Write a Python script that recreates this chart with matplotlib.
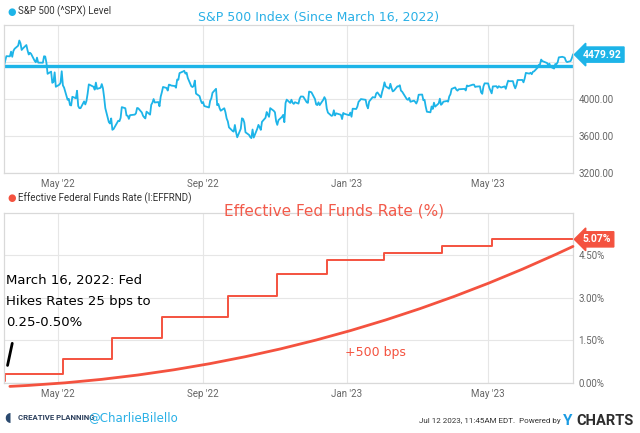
import matplotlib
matplotlib.use("Agg")
import matplotlib.pyplot as plt
import matplotlib.dates as mdates
import pandas as pd


START_DATE = "2022-03-16"
END_DATE = "2023-07-12"
MARKET_HOLIDAYS = [
    "2022-04-15", "2022-05-30", "2022-06-20", "2022-07-04", "2022-09-05",
    "2022-11-24", "2022-12-26", "2023-01-02", "2023-01-16", "2023-02-20",
    "2023-04-07", "2023-05-29", "2023-06-19", "2023-07-04",
]

# S&P 500 daily level, Mar 16 2022 -> Jul 12 2023 (last point intraday)
SPX_LEVEL = [
    4358, 4412, 4463, 4461, 4512, 4456, 4520, 4543, 4576, 4632, 4602, 4530,
    4546, 4583, 4525, 4481, 4500, 4488, 4413, 4397, 4447, 4393, 4392, 4462,
    4459, 4394, 4272, 4296, 4175, 4184, 4288, 4132,
    4155, 4175, 4300, 4147, 4123, 3991, 4001, 3935, 3930, 4024, 4008, 4089,
    3924, 3901, 3901, 3974, 3941, 3979, 4058, 4158, 4132,
    4101, 4177, 4109, 4121, 4161, 4116, 4018, 3901, 3750, 3735, 3790, 3667,
    3675, 3765, 3760, 3796, 3912, 3900, 3822, 3819, 3785,
    3825, 3831, 3845, 3903, 3899, 3854, 3819, 3802, 3790, 3863, 3831, 3937,
    3960, 3999, 3962, 3967, 3921, 4024, 4072, 4130,
    4119, 4091, 4155, 4152, 4145, 4140, 4122, 4210, 4207, 4280, 4297, 4305,
    4274, 4284, 4228, 4138, 4129, 4141, 4199, 4058, 4031, 3986, 3955,
    3967, 3924, 3908, 3980, 4006, 4067, 4110, 3933, 3946, 3901, 3873, 3900,
    3856, 3790, 3758, 3693, 3655, 3647, 3719, 3640, 3586,
    3678, 3791, 3783, 3745, 3640, 3612, 3589, 3577, 3670, 3583, 3678, 3720,
    3695, 3666, 3753, 3797, 3859, 3831, 3807, 3901, 3872,
    3856, 3760, 3720, 3771, 3807, 3828, 3749, 3956, 3993, 3957, 3992, 3959,
    3947, 3965, 3950, 4004, 4027, 4026, 3964, 3958, 4080,
    4077, 4072, 3999, 3941, 3934, 3964, 3934, 3991, 4020, 3995, 3896, 3852,
    3818, 3822, 3878, 3822, 3845, 3829, 3783, 3849, 3840,
    3824, 3853, 3808, 3895, 3892, 3919, 3970, 3983, 3999, 3991, 3929, 3899,
    3973, 4020, 4017, 4016, 4060, 4071, 4018, 4077,
    4119, 4180, 4136, 4111, 4164, 4118, 4082, 4090, 4137, 4136, 4148, 4090,
    4079, 3997, 3991, 4012, 3970, 3982, 3970,
    3951, 3981, 4046, 4048, 3986, 3992, 3918, 3862, 3856, 3919, 3892, 3960,
    3917, 3952, 4003, 3937, 3949, 3971, 3978, 3971, 4028, 4051, 4109,
    4125, 4101, 4090, 4105, 4109, 4109, 4092, 4146, 4138, 4151, 4155, 4155,
    4130, 4134, 4137, 4072, 4056, 4135, 4169,
    4168, 4120, 4091, 4061, 4136, 4138, 4119, 4138, 4131, 4124, 4136, 4110,
    4159, 4198, 4192, 4193, 4146, 4115, 4151, 4205, 4206, 4180,
    4221, 4282, 4274, 4284, 4268, 4294, 4299, 4339, 4369, 4373, 4426, 4410,
    4389, 4366, 4382, 4348, 4329, 4378, 4377, 4396, 4450,
    4456, 4447, 4412, 4399, 4410, 4439, 4479.92,
]
SPX_BASE = 4357.86
SPX_TICKS = [3200, 3600, 4000, 4400]

FED_DATES = [
    "2022-03-16", "2022-03-17", "2022-05-05", "2022-06-16", "2022-07-28",
    "2022-09-22", "2022-11-03", "2022-12-15", "2023-02-02", "2023-03-23",
    "2023-05-04", "2023-07-12",
]
FED_RATE = [0.08, 0.33, 0.83, 1.58, 2.33, 3.08, 3.83, 4.33, 4.58, 4.83, 5.08, 5.07]
FED_TICKS = [0.0, 1.5, 3.0, 4.5]

# hand-drawn "+500 bps" curve and marker stroke (date, %)
CURVE_START = ("2022-03-21", -0.12)
CURVE_END = ("2023-07-12", 4.82)
STROKE_START = ("2022-03-19", 0.62)
STROKE_END = ("2022-03-23", 1.40)

X_TICKS = ["2022-05-01", "2022-09-01", "2023-01-01", "2023-05-01"]

BLUE = "#1db4e8"
RED = "#f4523f"
GRID = "#e6e6e6"
FRAME = "#d9d9d9"
TICK_COLOR = "#666666"


def style_axes(ax, yticks, fmt, ylim):
    ax.set_xlim(pd.Timestamp(START_DATE), pd.Timestamp(END_DATE))
    ax.set_ylim(*ylim)
    ax.set_xticks(pd.to_datetime(X_TICKS))
    ax.xaxis.set_major_formatter(mdates.DateFormatter("%b '%y"))
    ax.set_yticks(yticks)
    ax.set_yticklabels([fmt.format(v) for v in yticks])
    ax.yaxis.tick_right()
    ax.tick_params(length=0, labelsize=7, colors=TICK_COLOR, pad=4)
    ax.grid(True, color=GRID, linewidth=0.8)
    ax.set_axisbelow(True)
    for spine in ax.spines.values():
        spine.set_color(FRAME)
        spine.set_linewidth(0.9)


def price_tag(ax, value, text, color):
    ax.annotate(text, xy=(1.0, value), xycoords=("axes fraction", "data"),
                xytext=(7, 0), textcoords="offset points", ha="left", va="center",
                fontsize=7.5, fontweight="bold", color="white",
                bbox=dict(boxstyle="larrow,pad=0.25", fc=color, ec=color),
                annotation_clip=False)


def main() -> None:
    plt.rcParams["font.family"] = ["Roboto", "DejaVu Sans"]
    days = pd.bdate_range(START_DATE, END_DATE, freq="C", holidays=MARKET_HOLIDAYS)
    spx = pd.Series(SPX_LEVEL, index=days)
    fed = pd.Series(FED_RATE, index=pd.to_datetime(FED_DATES))

    fig = plt.figure(figsize=(6.4, 4.33), dpi=100)
    ax1 = fig.add_axes([0.00625, 0.6005, 0.889, 0.3418])
    ax2 = fig.add_axes([0.00625, 0.1155, 0.889, 0.3926])

    # S&P 500 panel
    ax1.plot(spx.index, spx.values, color=BLUE, linewidth=1.3)
    ax1.axhline(SPX_BASE, color=BLUE, linewidth=2.4)
    style_axes(ax1, SPX_TICKS, "{:.2f}", (3200, 4800))
    ax1.get_yticklabels()[-1].set_visible(False)
    price_tag(ax1, spx.iloc[-1], f"{spx.iloc[-1]:.2f}", BLUE)

    # Fed funds panel
    ax2.step(fed.index, fed.values, where="post", color=RED, linewidth=1.4)
    style_axes(ax2, FED_TICKS, "{:.2f}%", (0, 6.0))
    price_tag(ax2, fed.iloc[-1], f"{fed.iloc[-1]:.2f}%", RED)

    ax2.annotate("", xy=(pd.Timestamp(CURVE_END[0]), CURVE_END[1]),
                 xytext=(pd.Timestamp(CURVE_START[0]), CURVE_START[1]),
                 arrowprops=dict(arrowstyle="-", color=RED, linewidth=2.0,
                                 shrinkA=0, shrinkB=0,
                                 connectionstyle="arc3,rad=0.10"),
                 annotation_clip=False)
    ax2.annotate("", xy=(pd.Timestamp(STROKE_END[0]), STROKE_END[1]),
                 xytext=(pd.Timestamp(STROKE_START[0]), STROKE_START[1]),
                 arrowprops=dict(arrowstyle="-", color="black", linewidth=2.0,
                                 shrinkA=0, shrinkB=0))
    ax2.text(0.003, 0.478, "March 16, 2022: Fed\nHikes Rates 25 bps to\n0.25-0.50%",
             transform=ax2.transAxes, ha="left", va="center", fontsize=9.5,
             linespacing=1.8, color="black", family="DejaVu Sans")
    ax2.text(0.6, 0.178, "+500 bps", transform=ax2.transAxes, ha="left",
             va="center", fontsize=9, color=RED, family="DejaVu Sans")

    # legends and titles
    fig.text(0.012, 0.973, "\u25cf", color=BLUE, fontsize=7, va="center")
    fig.text(0.028, 0.973, "S&P 500 (^SPX) Level", color="#333333", fontsize=7, va="center")
    fig.text(0.012, 0.543, "\u25cf", color=RED, fontsize=7, va="center")
    fig.text(0.028, 0.543, "Effective Federal Funds Rate (I:EFFRND)", color="#333333",
             fontsize=7, va="center")
    fig.text(0.497, 0.96, "S&P 500 Index (Since March 16, 2022)", color="#2ab0e6",
             fontsize=9, ha="center", va="center", family="DejaVu Sans")
    fig.text(0.522, 0.512, "Effective Fed Funds Rate (%)", color="#f25a4a",
             fontsize=11, ha="center", va="center", family="DejaVu Sans")

    # footer
    fig.text(0.006, 0.035, "\u25d6", color="#2b4a6f", fontsize=9, va="center")
    fig.text(0.028, 0.035, "CREATIVE PLANNING", color="#2b3f5c", fontsize=5.6,
             fontweight="bold", va="center")
    fig.text(0.138, 0.035, "@CharlieBilello", color="#2ab0e6", fontsize=8.5,
             va="center", family="DejaVu Sans")
    fig.text(0.876, 0.028, "Jul 12 2023, 11:45AM EDT.  Powered by", color="#333333",
             fontsize=5.8, ha="right", va="center")
    fig.text(0.879, 0.028, "Y", color="#1c9be2", fontsize=11, fontweight="bold",
             va="center")
    fig.text(0.9, 0.028, "CHARTS", color="#2d2d2d", fontsize=10.5, fontweight="bold",
             va="center")

    fig.savefig("out.png", dpi=100)
    plt.close(fig)


if __name__ == "__main__":
    main()
